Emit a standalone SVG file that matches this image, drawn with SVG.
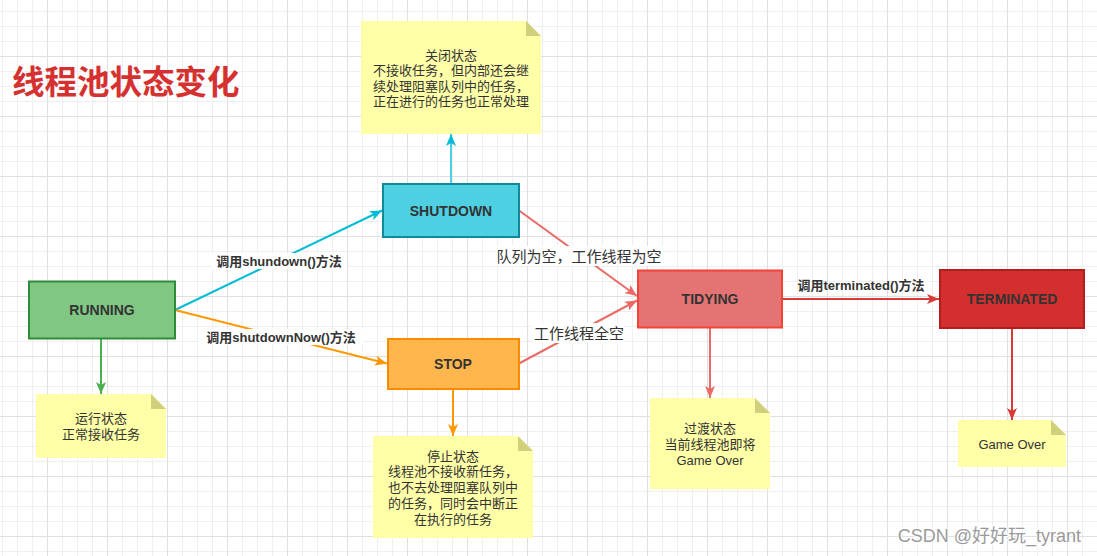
<svg xmlns="http://www.w3.org/2000/svg" width="1097" height="556" viewBox="0 0 1097 556">
  <style>
    .t { font-family: "Liberation Sans", "Noto Sans CJK SC", sans-serif; fill: #333333; }
    .node-label { font-size: 14px; font-weight: bold; text-anchor: middle; dominant-baseline: central; }
    .note-text { font-size: 13px; text-anchor: middle; dominant-baseline: central; }
    .edge-label { font-size: 13px; font-weight: bold; text-anchor: middle; dominant-baseline: central; }
    .edge-label-lg { font-size: 15px; text-anchor: middle; dominant-baseline: central; }
    .note { fill: #FFFFA8; }
    .fold { fill: #CFCF7C; }
    .lbl-bg { fill: #FFFFFF; }
    .edge { fill: none; stroke-width: 2; }
  </style>
  <defs>
    <pattern id="grid" x="2" y="11" width="60" height="60" patternUnits="userSpaceOnUse">
      <rect x="0" y="0" width="1" height="60" fill="#EFEFEF"/>
      <rect x="15" y="0" width="1" height="60" fill="#EFEFEF"/>
      <rect x="30" y="0" width="1" height="60" fill="#EFEFEF"/>
      <rect x="0" y="0" width="60" height="1" fill="#EFEFEF"/>
      <rect x="0" y="15" width="60" height="1" fill="#EFEFEF"/>
      <rect x="0" y="30" width="60" height="1" fill="#EFEFEF"/>
      <rect x="45" y="0" width="1" height="60" fill="#E0E0E0"/>
      <rect x="0" y="45" width="60" height="1" fill="#E0E0E0"/>
    </pattern>
    <marker id="arr-cyan" viewBox="0 0 12 10" refX="12" refY="5" markerWidth="12" markerHeight="10" markerUnits="userSpaceOnUse" orient="auto">
      <path d="M0,0 L12,5 L0,10 L3,5 Z" fill="#00BCD4"/>
    </marker>
    <marker id="arr-orange" viewBox="0 0 12 10" refX="12" refY="5" markerWidth="12" markerHeight="10" markerUnits="userSpaceOnUse" orient="auto">
      <path d="M0,0 L12,5 L0,10 L3,5 Z" fill="#FF9800"/>
    </marker>
    <marker id="arr-green" viewBox="0 0 12 10" refX="12" refY="5" markerWidth="12" markerHeight="10" markerUnits="userSpaceOnUse" orient="auto">
      <path d="M0,0 L12,5 L0,10 L3,5 Z" fill="#4CAF50"/>
    </marker>
    <marker id="arr-pink" viewBox="0 0 12 10" refX="12" refY="5" markerWidth="12" markerHeight="10" markerUnits="userSpaceOnUse" orient="auto">
      <path d="M0,0 L12,5 L0,10 L3,5 Z" fill="#EA6B66"/>
    </marker>
    <marker id="arr-red" viewBox="0 0 12 10" refX="12" refY="5" markerWidth="12" markerHeight="10" markerUnits="userSpaceOnUse" orient="auto">
      <path d="M0,0 L12,5 L0,10 L3,5 Z" fill="#D93A36"/>
    </marker>
  </defs>

  <!-- background grid -->
  <rect x="0" y="0" width="1097" height="556" fill="#FFFFFF"/>
  <rect x="0" y="0" width="1097" height="556" fill="url(#grid)"/>

  <!-- title -->
  <text x="12" y="83" font-family="'Liberation Sans', 'Noto Sans CJK SC', sans-serif" font-size="32.5" font-weight="bold" fill="#D63131" dominant-baseline="central">线程池状态变化</text>

  <!-- connectors -->
  <g id="connectors">
    <line class="edge" x1="175" y1="310" x2="382" y2="210.5" stroke="#00BCD4" marker-end="url(#arr-cyan)"/>
    <line class="edge" x1="175" y1="310" x2="387" y2="363.5" stroke="#FF9800" marker-end="url(#arr-orange)"/>
    <line class="edge" x1="519" y1="210.5" x2="637" y2="296" stroke="#EA6B66" marker-end="url(#arr-pink)"/>
    <line class="edge" x1="519" y1="363.5" x2="637" y2="300.5" stroke="#EA6B66" marker-end="url(#arr-pink)"/>
    <line class="edge" x1="783" y1="299" x2="939" y2="299" stroke="#D93A36" marker-end="url(#arr-red)"/>
    <line class="edge" x1="101" y1="339" x2="101" y2="394" stroke="#4CAF50" marker-end="url(#arr-green)"/>
    <line class="edge" x1="451" y1="183" x2="451" y2="134" stroke="#4DD0E1" marker-end="url(#arr-cyan)"/>
    <line class="edge" x1="453" y1="389" x2="453" y2="436" stroke="#FF9800" marker-end="url(#arr-orange)"/>
    <line class="edge" x1="710" y1="328" x2="710" y2="398" stroke="#EA6B66" marker-end="url(#arr-pink)"/>
    <line class="edge" x1="1012" y1="328" x2="1012" y2="420" stroke="#D93A36" marker-end="url(#arr-red)"/>

    <!-- connector labels -->
    <rect class="lbl-bg" x="211" y="253" width="136" height="16"/>
    <text class="t edge-label" x="279" y="261">调用shundown()方法</text>
    <rect class="lbl-bg" x="199" y="329" width="164" height="16"/>
    <text class="t edge-label" x="281" y="337">调用shutdownNow()方法</text>
    <rect class="lbl-bg" x="495" y="246" width="168" height="20"/>
    <text class="t edge-label-lg" x="579" y="256">队列为空，工作线程为空</text>
    <rect class="lbl-bg" x="533" y="323" width="92" height="20"/>
    <text class="t edge-label-lg" x="579" y="333">工作线程全空</text>
    <text class="t edge-label" x="861" y="285">调用terminated()方法</text>
  </g>

  <!-- state nodes -->
  <g id="running">
    <rect x="29" y="281.5" width="146" height="57" fill="#81C784" stroke="#2E8B3A" stroke-width="2"/>
    <text class="t node-label" x="102" y="310">RUNNING</text>
  </g>
  <g id="shutdown">
    <rect x="383" y="184" width="136" height="53" fill="#4DD0E1" stroke="#0E8A9A" stroke-width="2"/>
    <text class="t node-label" x="451" y="210.5">SHUTDOWN</text>
  </g>
  <g id="stop">
    <rect x="388" y="339" width="131" height="50" fill="#FFB74D" stroke="#FF8A00" stroke-width="2"/>
    <text class="t node-label" x="453" y="364">STOP</text>
  </g>
  <g id="tidying">
    <rect x="638" y="270.5" width="144" height="57" fill="#E57373" stroke="#F44336" stroke-width="2"/>
    <text class="t node-label" x="710" y="299">TIDYING</text>
  </g>
  <g id="terminated">
    <rect x="940" y="270" width="144" height="58" fill="#D32F2F" stroke="#B71C1C" stroke-width="2"/>
    <text class="t node-label" x="1012" y="299">TERMINATED</text>
  </g>

  <!-- notes -->
  <g id="note-shutdown">
    <path class="note" d="M361,21 H526 L541,36 V134 H361 Z"/>
    <path class="fold" d="M526,21 V36 H541 Z"/>
    <text class="t note-text" x="451" y="55">关闭状态</text>
    <text class="t note-text" x="451" y="70.5">不接收任务，但内部还会继</text>
    <text class="t note-text" x="451" y="86">续处理阻塞队列中的任务，</text>
    <text class="t note-text" x="451" y="101.5">正在进行的任务也正常处理</text>
  </g>
  <g id="note-running">
    <path class="note" d="M36,394 H151 L166,409 V458 H36 Z"/>
    <path class="fold" d="M151,394 V409 H166 Z"/>
    <text class="t note-text" x="101" y="418">运行状态</text>
    <text class="t note-text" x="101" y="434">正常接收任务</text>
  </g>
  <g id="note-stop">
    <path class="note" d="M373,436 H518 L533,451 V538 H373 Z"/>
    <path class="fold" d="M518,436 V451 H533 Z"/>
    <text class="t note-text" x="453" y="456">停止状态</text>
    <text class="t note-text" x="453" y="471.5">线程池不接收新任务，</text>
    <text class="t note-text" x="453" y="487">也不去处理阻塞队列中</text>
    <text class="t note-text" x="453" y="503">的任务，同时会中断正</text>
    <text class="t note-text" x="453" y="519">在执行的任务</text>
  </g>
  <g id="note-tidying">
    <path class="note" d="M650,398 H755 L770,413 V489 H650 Z"/>
    <path class="fold" d="M755,398 V413 H770 Z"/>
    <text class="t note-text" x="710" y="428">过渡状态</text>
    <text class="t note-text" x="710" y="444">当前线程池即将</text>
    <text class="t note-text" x="710" y="460">Game Over</text>
  </g>
  <g id="note-terminated">
    <path class="note" d="M958,420 H1051 L1066,435 V467 H958 Z"/>
    <path class="fold" d="M1051,420 V435 H1066 Z"/>
    <text class="t note-text" x="1012" y="444">Game Over</text>
  </g>

  <!-- watermark -->
  <text x="1081" y="536" font-family="'Liberation Sans', 'Noto Sans CJK SC', sans-serif" font-size="18" fill="#9A9A9A" stroke="#FFFFFF" stroke-width="2" paint-order="stroke" text-anchor="end" dominant-baseline="central">CSDN @好好玩_tyrant</text>
</svg>
